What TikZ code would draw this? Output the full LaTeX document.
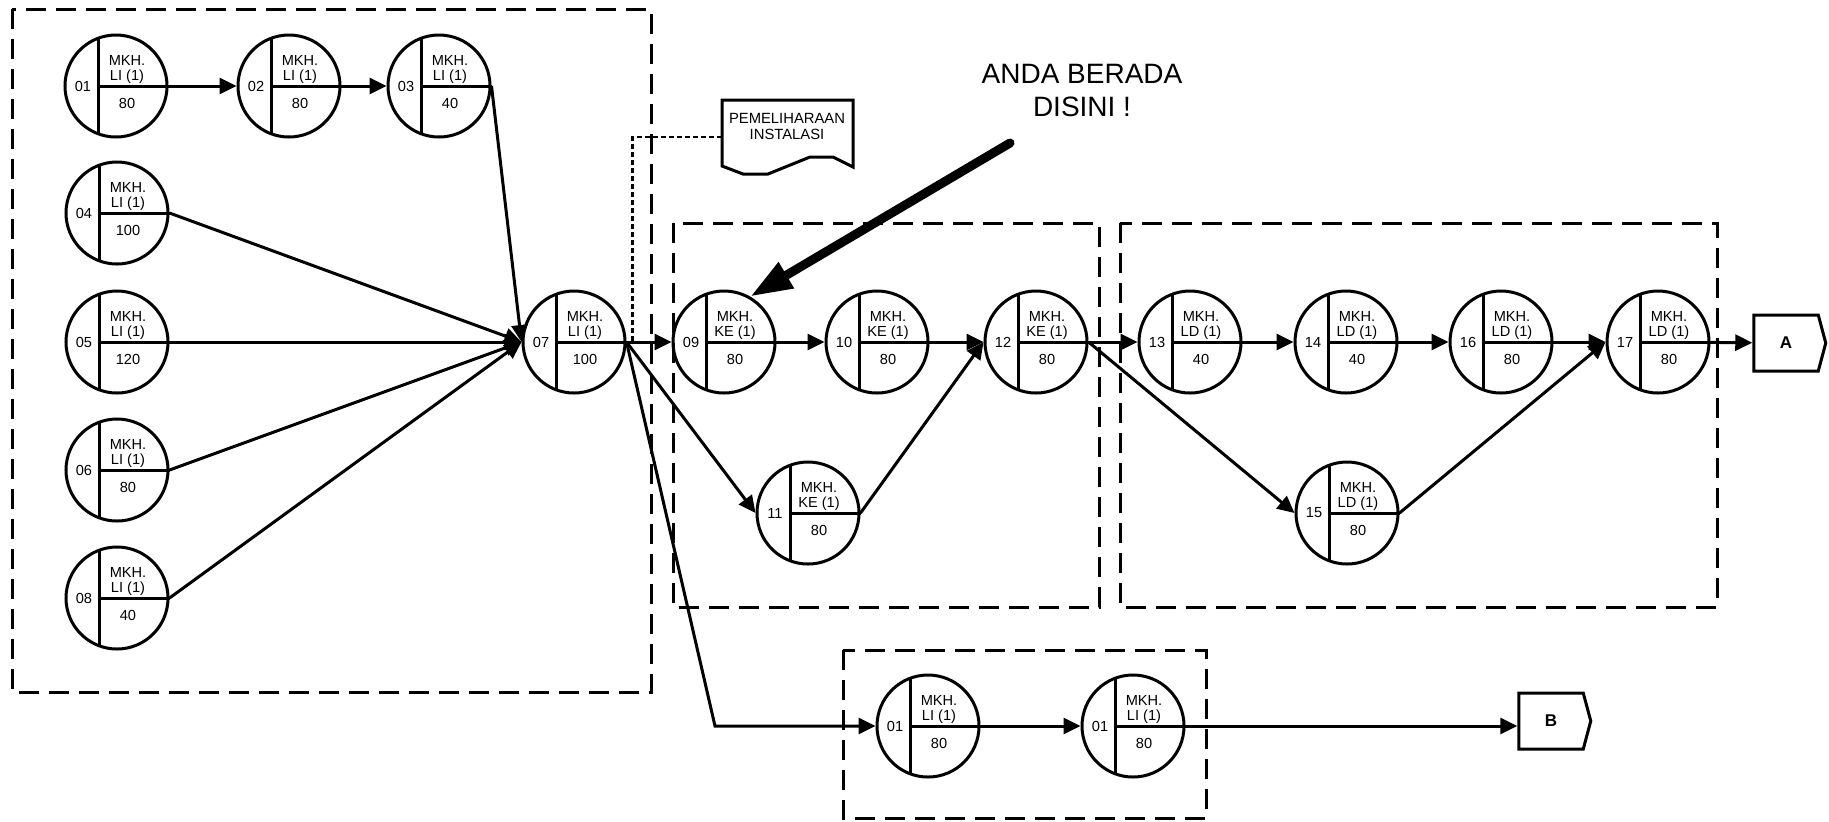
\documentclass[tikz,border=0pt]{standalone}
\usepackage{fontspec}
\setmainfont{Liberation Sans}
\usetikzlibrary{arrows.meta,calc,shapes.symbols}

\begin{document}
\begin{tikzpicture}[x=0.5pt,y=-0.5pt,
  evt/.style={circle,draw,line width=1.5pt,minimum size=51pt,inner sep=0pt},
  lbl/.style={inner sep=0pt,font=\fontsize{7.3}{8}\selectfont},
  grp/.style={draw,line width=1.5pt,dash pattern=on 10pt off 5pt},
  arrow/.style={-{Triangle[length=8.5pt,width=8pt]},line width=1.5pt},
  link/.style={line width=1.2pt,dash pattern=on 2.5pt off 1.5pt},
  term/.style={signal,signal to=east,signal pointer angle=150,draw,
               line width=1.5pt,minimum width=36pt,minimum height=28pt,
               inner sep=0pt,font=\fontsize{8.5}{10}\selectfont\bfseries},
  point/.style={-{Triangle[length=21pt,width=14pt]},line width=4.5pt,line cap=round}]
\useasboundingbox (0,0) rectangle (1829,821);
% kotak kelompok
\draw[grp] (12,9) rectangle (651,692);
\draw[grp] (673,223) rectangle (1099,607);
\draw[grp] (1120,223) rectangle (1717,607);
\draw[grp] (843,650) rectangle (1206,818);
% kejadian
\foreach \nm/\px/\py/\num/\kode/\dur in {
  e01/116/86/01/LI/80, e02/289/86/02/LI/80, e03/439/86/03/LI/40,
  e04/117/213/04/LI/100, e05/117/342/05/LI/120, e06/117/470/06/LI/80,
  e08/117/598/08/LI/40, e07/574/342/07/LI/100,
  e09/724/342/09/KE/80, e10/877/342/10/KE/80, e12/1036/342/12/KE/80,
  e11/808/513/11/KE/80,
  e13/1190/342/13/LD/40, e14/1346/342/14/LD/40, e16/1501/342/16/LD/80,
  e17/1658/342/17/LD/80, e15/1347/513/15/LD/80,
  f01/928/726/01/LI/80, f02/1133/726/01/LI/80}{
  \node[evt] (\nm) at (\px,\py) {};
  \draw[line width=1.5pt] ($(\nm)+(-18,-47.7)$) -- ($(\nm)+(-18,47.7)$);
  \draw[line width=1.5pt] ($(\nm)+(-18,0)$) -- (\nm.east);
  \node[lbl] (\nm-id)  at ($(\nm)+(-33,0)$)  {\num};
  \node[lbl] (\nm-mk)  at ($(\nm)+(11,-26)$) {MKH.};
  \node[lbl] (\nm-kd)  at ($(\nm)+(11,-9)$)  {\kode{} (1)};
  \node[lbl] (\nm-dur) at ($(\nm)+(11,17)$)  {\dur};
}
\node[term] (A) at (1786,343) {A};
\node[term] (B) at (1551,721) {B};
% catatan
\draw[line width=1.5pt] (722,166) -- (722,100) -- (853,100) -- (853,167)
  -- (833,157) -- (810,157) -- (768,174) -- (743,174) -- cycle;
\node[lbl,align=center,font=\fontsize{7.4}{8}\selectfont] (note) at (787,126)
  {PEMELIHARAAN\\INSTALASI};
\coordinate (notel) at (722,137);
\node[font=\fontsize{14}{16.5}\selectfont,align=center] (here) at (1082,90)
  {ANDA BERADA\\DISINI !};
\coordinate (ptr) at (1010,143);
\coordinate (kb) at (715,726);
% panah
\foreach \a/\b in {e01/e02,e02/e03,e07/e09,e09/e10,e10/e12,e12/e13,
                   e13/e14,e14/e16,e16/e17,f01/f02,e17/A}
  \draw[arrow] (\a) -- (\b);
\foreach \a in {e03,e04,e05,e06,e08}
  \draw[arrow] (\a.east) -- (e07.west);
\draw[arrow] (e07.east) -- (e11.west);
\draw[arrow] (e11.east) -- (e12.west);
\draw[arrow] (e12.east) -- (e15.west);
\draw[arrow] (e15.east) -- (e17.west);
\draw[arrow] (e07.east) -- (kb) -- (f01);
\draw[arrow] (f02.east) -- (f02.east -| B.west);
\draw[link] (notel) -| ([xshift=3pt]e07.east);
\draw[point] (ptr) -- (e09.60);
\end{tikzpicture}
\end{document}
